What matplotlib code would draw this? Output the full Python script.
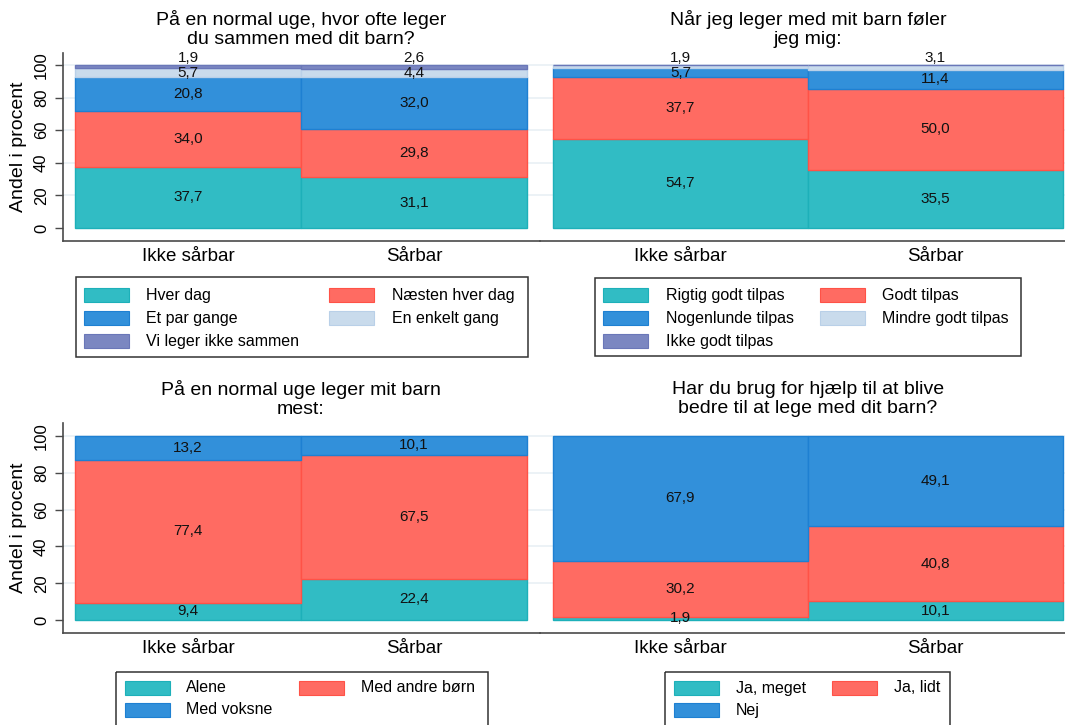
import numpy as np
import matplotlib
matplotlib.use("Agg")
import matplotlib.pyplot as plt
from matplotlib.patches import Rectangle

plt.rcParams['font.family'] = ['Liberation Sans', 'DejaVu Sans']

# ---- data ----
groups = ['Ikke sårbar', 'Sårbar']

title1 = 'På en normal uge, hvor ofte leger\ndu sammen med dit barn?'
cats1 = ['Hver dag', 'Næsten hver dag', 'Et par gange', 'En enkelt gang', 'Vi leger ikke sammen']
ikke1 = [37.7, 34.0, 20.8, 5.7, 1.9]
saar1 = [31.1, 29.8, 32.0, 4.4, 2.6]

title2 = 'Når jeg leger med mit barn føler\njeg mig:'
cats2 = ['Rigtig godt tilpas', 'Godt tilpas', 'Nogenlunde tilpas', 'Mindre godt tilpas', 'Ikke godt tilpas']
ikke2 = [54.7, 37.7, 5.7, 1.9, 0.0]
saar2 = [35.5, 50.0, 11.4, 3.1, 0.0]

title3 = 'På en normal uge leger mit barn\nmest:'
cats3 = ['Alene', 'Med andre børn', 'Med voksne']
ikke3 = [9.4, 77.4, 13.2]
saar3 = [22.4, 67.5, 10.1]

title4 = 'Har du brug for hjælp til at blive\nbedre til at lege med dit barn?'
cats4 = ['Ja, meget', 'Ja, lidt', 'Nej']
ikke4 = [1.9, 30.2, 67.9]
saar4 = [10.1, 40.8, 49.1]

fills = ['#31bcc4', '#ff6b62', '#3290da', '#c9dbec', '#7b87c1']
edges = ['#1db0b9', '#ff5247', '#1e80d2', '#b9d0e8', '#6a77b8']

W, H = 1065, 725
fig = plt.figure(figsize=(W / 100, H / 100), dpi=100)
fig.patch.set_facecolor('white')


def px_axes(l, t, r, b):
    return fig.add_axes([l / W, 1 - b / H, (r - l) / W, (b - t) / H])


# overlay in pixel coords for titles / legends
ov = fig.add_axes([0, 0, 1, 1], zorder=5)
ov.set_xlim(0, W)
ov.set_ylim(H, 0)
ov.axis('off')


def panel(box, bars_x, y0, y100, title, cats, vals_a, vals_b, left_axis, leg):
    l, t, r, b = box
    ax = px_axes(l, t, r, b)
    ax.patch.set_alpha(0)
    xs = (bars_x[1] - bars_x[0]) / 2.0  # px per unit
    ys = (y0 - y100) / 100.0
    ax.set_xlim(-0.5 - (bars_x[0] - l) / xs, 1.5 + (r - bars_x[1]) / xs)
    ax.set_ylim(-(b - y0) / ys, 100 + (y100 - t) / ys)

    for g in [20, 40, 60, 80, 100]:
        ax.axhline(g, color='#e9f0f5', lw=1.2, zorder=0)

    data = np.array([vals_a, vals_b])
    bottoms = np.zeros(2)
    n = len(cats)
    for i in range(n):
        v = data[:, i]
        ax.bar([0, 1], v, width=1.0, bottom=bottoms, color=fills[i],
               edgecolor=edges[i], linewidth=1.0, zorder=2)
        for j in range(2):
            if v[j] <= 0:
                continue
            ypos = bottoms[j] + v[j] / 2
            if i == n - 1 or all(data[j, i + 1:] == 0):
                if v[j] < 4:
                    ypos = 104.5
            ax.text(j, ypos, f'{v[j]:.1f}'.replace('.', ','), ha='center',
                    va='center', fontsize=11, color='#111111', zorder=4)
        bottoms = bottoms + v

    ax.set_xticks([0, 1])
    ax.set_xticklabels(groups, fontsize=13.5)
    ax.tick_params(axis='x', length=0, pad=5)
    for s in ['top', 'right']:
        ax.spines[s].set_visible(False)
    ax.spines['bottom'].set_color('#4a4a4a')
    ax.spines['bottom'].set_linewidth(1.2)
    if left_axis:
        ax.set_yticks([0, 20, 40, 60, 80, 100])
        ax.set_yticklabels(['0', '20', '40', '60', '80', '100'], fontsize=12,
                           rotation=90, va='center')
        ax.tick_params(axis='y', length=6, width=1, color='#4a4a4a', pad=4)
        ax.spines['left'].set_color('#4a4a4a')
        ax.spines['left'].set_linewidth(1.2)
        ov.text(19, (t + b) / 2, 'Andel i procent', rotation=90, ha='center',
                va='center', fontsize=14)
    else:
        ax.set_yticks([])
        ax.spines['left'].set_visible(False)

    ov.text((bars_x[0] + bars_x[1]) / 2, t - 24, title, ha='center', va='center',
            fontsize=14, linespacing=1.12)

    # legend box
    (bl, bt, br, bb), sw_x, tx_x, rows = leg
    ov.add_patch(Rectangle((bl, bt), br - bl, bb - bt, fill=False,
                           edgecolor='#333333', lw=1.1))
    for i, c in enumerate(cats):
        row, col = i // 2, i % 2
        y = rows[row]
        ov.add_patch(Rectangle((sw_x[col], y - 7), 45, 14, facecolor=fills[i],
                               edgecolor=edges[i], lw=0.8))
        ov.text(tx_x[col], y, c, ha='left', va='center', fontsize=11.5)
    return ax


panel((63, 53, 540, 241), (75, 527), 228, 65, title1, cats1, ikke1, saar1, True,
      ((76, 277, 528, 357), (84, 329), (146, 392), (295, 318, 341)))
panel((540, 53, 1065, 241), (553, 1063), 228, 65, title2, cats2, ikke2, saar2, False,
      ((595, 278, 1021, 356), (603, 820), (666, 882), (295, 318, 341)))
panel((63, 423, 540, 633), (75, 527), 620, 436, title3, cats3, ikke3, saar3, True,
      ((116, 672, 488, 740), (125, 299), (186, 361), (688, 710)))
panel((540, 423, 1065, 633), (553, 1063), 620, 436, title4, cats4, ikke4, saar4, False,
      ((665, 672, 950, 740), (674, 832), (736, 894), (688, 710)))

fig.savefig('out.png', dpi=100)
